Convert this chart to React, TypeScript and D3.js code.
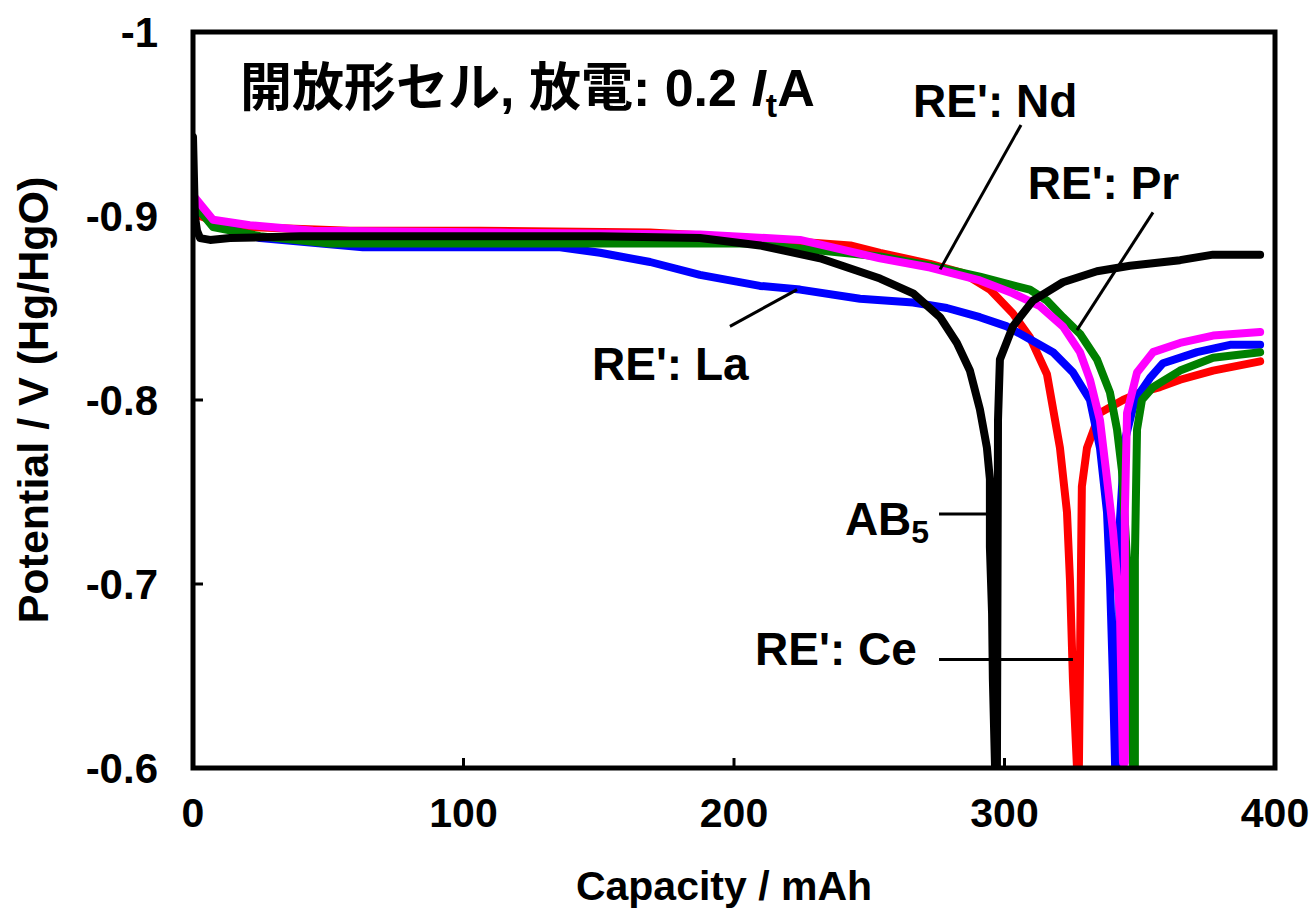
import * as d3 from "d3";
import { useEffect, useRef } from "react";

// discharge curves, [capacity mAh, potential V]
const laCurve = [
  [0.7, -0.909], [2.6, -0.902], [8.1, -0.895], [24.8, -0.888], [62.8, -0.883], [135.7, -0.883],
  [150.5, -0.880], [169, -0.875], [187.4, -0.868], [209.6, -0.862], [224.4, -0.86], [246.6, -0.855],
  [266.2, -0.853], [278.7, -0.85], [290.9, -0.845], [300.9, -0.84], [309.4, -0.833], [317.9, -0.826],
  [325.3, -0.815], [331.6, -0.8], [335.3, -0.774], [337.9, -0.739], [339.0, -0.702], [340.1, -0.648],
  [340.9, -0.6], [342.0, -0.6], [342.7, -0.735], [344.5, -0.778], [348.2, -0.8], [353.8, -0.812],
  [358.6, -0.82], [371.2, -0.826], [383.4, -0.83], [394.5, -0.83],
];
const ceCurve = [
  [0.7, -0.906], [2.6, -0.9], [8.1, -0.897], [21, -0.894], [58, -0.892], [106, -0.892], [169, -0.891],
  [206, -0.888], [243, -0.884], [254, -0.88], [272.5, -0.874], [284.7, -0.869], [294.6, -0.86],
  [303.1, -0.847], [309.4, -0.834], [315.7, -0.814], [320.5, -0.774], [323.1, -0.739], [324.2, -0.702],
  [325.3, -0.648], [326.8, -0.6], [327.5, -0.6], [328.3, -0.713], [328.6, -0.753], [330.5, -0.774],
  [335.3, -0.793], [343.8, -0.8], [350.1, -0.804], [357.5, -0.807], [364.9, -0.811], [377.1, -0.816],
  [394.5, -0.821],
];
const prCurve = [
  [0.7, -0.906], [7.4, -0.894], [24.8, -0.889], [50.6, -0.885], [106, -0.885], [169, -0.885],
  [206, -0.885], [254, -0.878], [272.5, -0.873], [290.9, -0.867], [309.4, -0.86], [315.7, -0.854],
  [321.6, -0.845], [327.9, -0.836], [334.2, -0.822], [339.0, -0.804], [341.6, -0.784], [343.4, -0.762],
  [345.3, -0.713], [346.4, -0.648], [347.5, -0.6], [348.2, -0.6], [348.2, -0.713], [349.0, -0.784],
  [350.8, -0.8], [354.9, -0.807], [364.9, -0.816], [377.1, -0.823], [394.5, -0.826],
];
const ndCurve = [
  [0.7, -0.91], [7.4, -0.898], [21, -0.895], [44.4, -0.892], [113.5, -0.891], [187.4, -0.89],
  [224.4, -0.887], [254, -0.877], [272.5, -0.872], [290.9, -0.865], [303.1, -0.858], [313.1, -0.851],
  [321.6, -0.84], [327.9, -0.826], [331.6, -0.811], [335.3, -0.789], [337.9, -0.757], [340.1, -0.729],
  [342.7, -0.684], [343.8, -0.603], [344.5, -0.603], [344.5, -0.739], [345.3, -0.793], [349.0, -0.815],
  [354.9, -0.826], [364.9, -0.831], [377.1, -0.835], [394.5, -0.837],
];
const ab5Curve = [
  [0, -0.943], [0.7, -0.9], [1.5, -0.892], [2.6, -0.888], [6.3, -0.887], [13.7, -0.888], [39.6, -0.889],
  [76.5, -0.889], [113.5, -0.889], [150.5, -0.889], [187.4, -0.888], [209.6, -0.884], [231.8, -0.877],
  [254, -0.866], [266.2, -0.858], [276.2, -0.845], [282.4, -0.831], [287.2, -0.816], [290.9, -0.795],
  [293.5, -0.774], [294.6, -0.757], [294.6, -0.72], [295.4, -0.684], [295.7, -0.648], [296.5, -0.6],
  [297.2, -0.6], [297.6, -0.789], [298.3, -0.822], [303.1, -0.84], [310.5, -0.854], [321.6, -0.864],
  [334.2, -0.87], [346.4, -0.873], [364.9, -0.876], [377.1, -0.879], [394.5, -0.879],
];

const seriesNames = ["La", "Ce", "Pr", "Nd", "AB5"];
const seriesColors = ["#0000ff", "#ff0000", "#008000", "#ff00ff", "#000000"];
const seriesData = [laCurve, ceCurve, prCurve, ndCurve, ab5Curve];
const drawOrder = [1, 0, 2, 3, 4];

const xTicks = [0, 100, 200, 300, 400];
const yTicks = [-1, -0.9, -0.8, -0.7, -0.6];

// label text, label anchor [cap, V], leader from, leader to
const labels = [
  { text: "RE': Nd", at: [266.2, -0.9538], from: [306.1, -0.9495], to: [276.2, -0.871] },
  { text: "RE': Pr", at: [308.6, -0.9092], from: [354.9, -0.902], to: [326.8, -0.838] },
  { text: "RE': La", at: [147.5, -0.811], from: [198.5, -0.84], to: [223.3, -0.86] },
  { text: "RE': Ce", at: [207.8, -0.656], from: [275.8, -0.659], to: [325.3, -0.659] },
];

const font = "'Liberation Sans', Arial, 'Noto Sans CJK JP', sans-serif";

const App = () => {
  const ref = useRef(null);
  const width = 1312;
  const height = 912;
  const margin = { top: 32, left: 193, right: 37, bottom: 144 };

  useEffect(() => {
    const svg = d3.select(ref.current);
    svg.selectAll("*").remove();

    const x = d3.scaleLinear().domain([0, 400]).range([margin.left, width - margin.right]);
    const y = d3.scaleLinear().domain([-1, -0.6]).range([margin.top, height - margin.bottom]);

    svg.append("rect").attr("width", width).attr("height", height).attr("fill", "#fff");

    const clip = svg.append("clipPath").attr("id", "plotclip");
    clip.append("rect")
      .attr("x", x(0)).attr("y", y(-1))
      .attr("width", x(400) - x(0)).attr("height", y(-0.6) - y(-1));

    // ticks, inward
    const axisG = svg.append("g").attr("stroke", "#000").attr("stroke-width", 3);
    yTicks.slice(1, -1).forEach(t => {
      axisG.append("line").attr("x1", x(0)).attr("x2", x(0) + 10).attr("y1", y(t)).attr("y2", y(t));
    });
    xTicks.slice(1, -1).forEach(t => {
      axisG.append("line").attr("x1", x(t)).attr("x2", x(t)).attr("y1", y(-0.6)).attr("y2", y(-0.6) - 10);
    });

    const line = d3.line().x(d => x(d[0])).y(d => y(d[1]));
    const plot = svg.append("g").attr("clip-path", "url(#plotclip)");
    drawOrder.forEach(i => {
      plot.append("path")
        .datum(seriesData[i])
        .attr("d", line)
        .attr("fill", "none")
        .attr("stroke", seriesColors[i])
        .attr("stroke-width", 8)
        .attr("stroke-linejoin", "round")
        .attr("stroke-linecap", "round")
        .attr("data-name", seriesNames[i]);
    });

    // frame
    svg.append("rect")
      .attr("x", x(0)).attr("y", y(-1))
      .attr("width", x(400) - x(0)).attr("height", y(-0.6) - y(-1))
      .attr("fill", "none").attr("stroke", "#000").attr("stroke-width", 5);

    // tick labels
    svg.append("g").selectAll("text").data(yTicks).enter().append("text")
      .attr("x", x(0) - 35).attr("y", d => y(d))
      .attr("dy", "0.36em")
      .attr("text-anchor", "end")
      .style("font-family", font).style("font-weight", "bold").style("font-size", "42px")
      .text(d => String(d));
    svg.append("g").selectAll("text").data(xTicks).enter().append("text")
      .attr("x", d => x(d)).attr("y", 827)
      .attr("text-anchor", "middle")
      .style("font-family", font).style("font-weight", "bold").style("font-size", "41px")
      .text(d => d);

    // axis titles
    svg.append("text")
      .attr("x", (x(0) + x(400)) / 2 - 10).attr("y", 900)
      .attr("text-anchor", "middle")
      .style("font-family", font).style("font-weight", "bold").style("font-size", "41px")
      .text("Capacity / mAh");
    svg.append("text")
      .attr("transform", `translate(48, ${(y(-1) + y(-0.6)) / 2}) rotate(-90)`)
      .attr("text-anchor", "middle")
      .style("font-family", font).style("font-weight", "bold").style("font-size", "43px")
      .text("Potential / V (Hg/HgO)");

    // title
    const title = svg.append("text")
      .attr("x", 240).attr("y", 106)
      .style("font-family", font).style("font-weight", "bold").style("font-size", "52px");
    title.append("tspan").text("開放形セル, 放電: 0.2 ");
    title.append("tspan").style("font-style", "italic").text("I");
    title.append("tspan").attr("dy", 11).style("font-size", "34px").text("t");
    title.append("tspan").attr("dy", -11).text("A");

    // annotations
    const ann = svg.append("g");
    labels.forEach(l => {
      ann.append("line")
        .attr("x1", x(l.from[0])).attr("y1", y(l.from[1]))
        .attr("x2", x(l.to[0])).attr("y2", y(l.to[1]))
        .attr("stroke", "#000").attr("stroke-width", 3);
      ann.append("text")
        .attr("x", x(l.at[0])).attr("y", y(l.at[1]))
        .style("font-family", font).style("font-weight", "bold").style("font-size", "46px")
        .text(l.text);
    });
    ann.append("line")
      .attr("x1", x(275.8)).attr("y1", y(-0.738))
      .attr("x2", x(293.5)).attr("y2", y(-0.738))
      .attr("stroke", "#000").attr("stroke-width", 3);
    const ab = ann.append("text")
      .attr("x", x(241)).attr("y", y(-0.7265))
      .style("font-family", font).style("font-weight", "bold").style("font-size", "46px");
    ab.append("tspan").text("AB");
    ab.append("tspan").attr("dy", 8).style("font-size", "32px").text("5");
  }, []);

  return (
    <svg ref={ref} width={width} height={height}
      style={{ position: "absolute", left: 0, top: 0, display: "block" }}></svg>
  );
};

export default App;
